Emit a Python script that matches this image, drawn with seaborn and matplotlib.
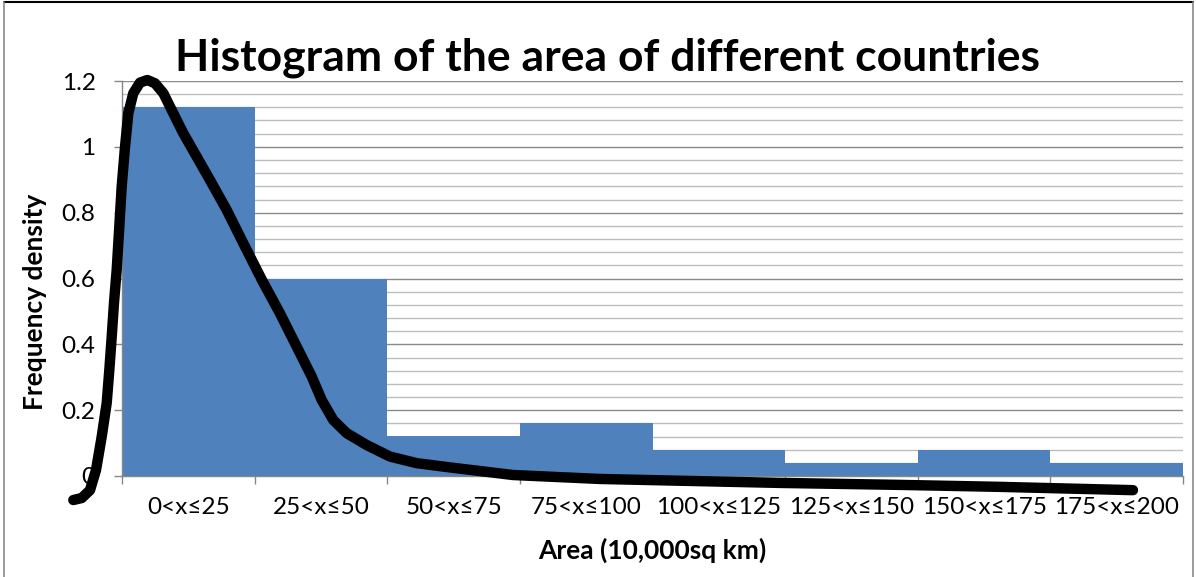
import numpy as np
import pandas as pd
import matplotlib
matplotlib.use("Agg")
import matplotlib.pyplot as plt
import seaborn as sns
from matplotlib.ticker import MultipleLocator, FixedLocator, FixedFormatter
from matplotlib.lines import Line2D

# ---------------- data ----------------
categories = ["0<x≤25", "25<x≤50", "50<x≤75", "75<x≤100",
              "100<x≤125", "125<x≤150", "150<x≤175", "175<x≤200"]
bin_edges = [0, 25, 50, 75, 100, 125, 150, 175, 200]
density = [1.12, 0.60, 0.12, 0.16, 0.08, 0.04, 0.08, 0.04]

y_ticks = [0, 0.2, 0.4, 0.6, 0.8, 1.0, 1.2]
y_tick_labels = ["0", "0.2", "0.4", "0.6", "0.8", "1", "1.2"]

# hand-drawn curve over the histogram (area units, density units)
curve_x = [-9.18, -7.60, -6.03, -4.90, -3.83, -2.88, -2.39, -1.94, -1.51, -1.00,
           -0.51, -0.06, 0.57, 1.19, 2.13, 3.39, 4.77, 6.22, 7.79, 9.67,
           11.56, 14.08, 16.59, 19.74, 22.87, 26.39, 29.78, 32.93, 35.76, 37.64,
           39.83, 42.36, 46.13, 50.52, 55.55, 61.84, 73.70, 90.10, 124.03, 146.65,
           165.50, 190.57]
curve_y = [-0.073, -0.067, -0.043, 0.018, 0.119, 0.222, 0.322, 0.423, 0.526, 0.626,
           0.757, 0.879, 1.000, 1.102, 1.163, 1.195, 1.203, 1.193, 1.163, 1.102,
           1.041, 0.970, 0.899, 0.808, 0.707, 0.595, 0.494, 0.393, 0.302, 0.231,
           0.170, 0.130, 0.094, 0.059, 0.039, 0.026, 0.003, -0.009, -0.021, -0.027,
           -0.033, -0.043]

title = "Histogram of the area of different countries"
x_label = "Area (10,000sq km)"
y_label = "Frequency density"

# ---------------- style ----------------
sns.set_theme(style="white")
plt.rcParams['font.family'] = ['Lato', 'DejaVu Sans']

W, H = 1196, 577
fig = plt.figure(figsize=(W / 100, H / 100), dpi=100)
ax = fig.add_axes([122 / W, 1 - 476 / H, (1183 - 122) / W, (476 - 81) / H])

mids = [(a + b) / 2 for a, b in zip(bin_edges[:-1], bin_edges[1:])]
df = pd.DataFrame({"mid": mids, "density": density})
sns.histplot(data=df, x="mid", weights="density", bins=bin_edges, stat="count",
             color="#4F81BD", alpha=1, edgecolor="none", linewidth=0, ax=ax)

ax.set_xlim(0, 200)
ax.set_ylim(0, 1.2)

# gridlines
ax.set_axisbelow(True)
ax.yaxis.set_major_locator(FixedLocator(y_ticks))
ax.yaxis.set_major_formatter(FixedFormatter(y_tick_labels))
ax.yaxis.set_minor_locator(MultipleLocator(0.04))
ax.yaxis.grid(True, which="major", color="#8A8A8A", lw=1.0)
ax.yaxis.grid(True, which="minor", color="#BDBDBD", lw=1.0)
ax.xaxis.grid(False)

# x ticks: labels at mids, tick marks at edges
ax.xaxis.set_major_locator(FixedLocator(mids))
ax.xaxis.set_major_formatter(FixedFormatter(categories))
ax.xaxis.set_minor_locator(FixedLocator(bin_edges))
ax.tick_params(axis="x", which="major", length=0, pad=15, labelsize=17.5, labelcolor="black")
ax.tick_params(axis="x", which="minor", length=6, width=1, color="#868686", direction="out", bottom=True)
ax.tick_params(axis="y", which="major", length=6, width=1, color="#868686", direction="out",
               left=True, pad=13, labelsize=17.5, labelcolor="black")
ax.tick_params(axis="y", which="minor", length=0)

for s in ["top", "right"]:
    ax.spines[s].set_visible(False)
for s in ["left", "bottom"]:
    ax.spines[s].set_color("#868686")
    ax.spines[s].set_linewidth(1.0)

ax.set_xlabel("")
ax.set_ylabel("")

# hand-drawn curve
ax.plot(curve_x, curve_y, color="black", lw=7.5, solid_capstyle="round",
        solid_joinstyle="round", clip_on=False, zorder=10)

# texts
fig.text(607 / W, 1 - 70 / H, title, ha="center", va="baseline",
         fontsize=32, fontweight="bold", color="black")
fig.text(652 / W, 1 - 559 / H, x_label, ha="center", va="baseline",
         fontsize=19, fontweight="bold", color="black")
fig.text(35 / W, 1 - 302 / H, y_label, ha="center", va="center", rotation=90,
         fontsize=19, fontweight="bold", color="black")

# outer chart border
fig.add_artist(Line2D([4 / W, 1193 / W], [1 - 2 / H, 1 - 2 / H], transform=fig.transFigure,
                      color="black", lw=1.5))
fig.add_artist(Line2D([4 / W, 4 / W], [0, 1 - 2 / H], transform=fig.transFigure,
                      color="#8A8A8A", lw=1.2))
fig.add_artist(Line2D([1193 / W, 1193 / W], [0, 1 - 2 / H], transform=fig.transFigure,
                      color="#8A8A8A", lw=1.2))

fig.savefig("out.png", dpi=100)
